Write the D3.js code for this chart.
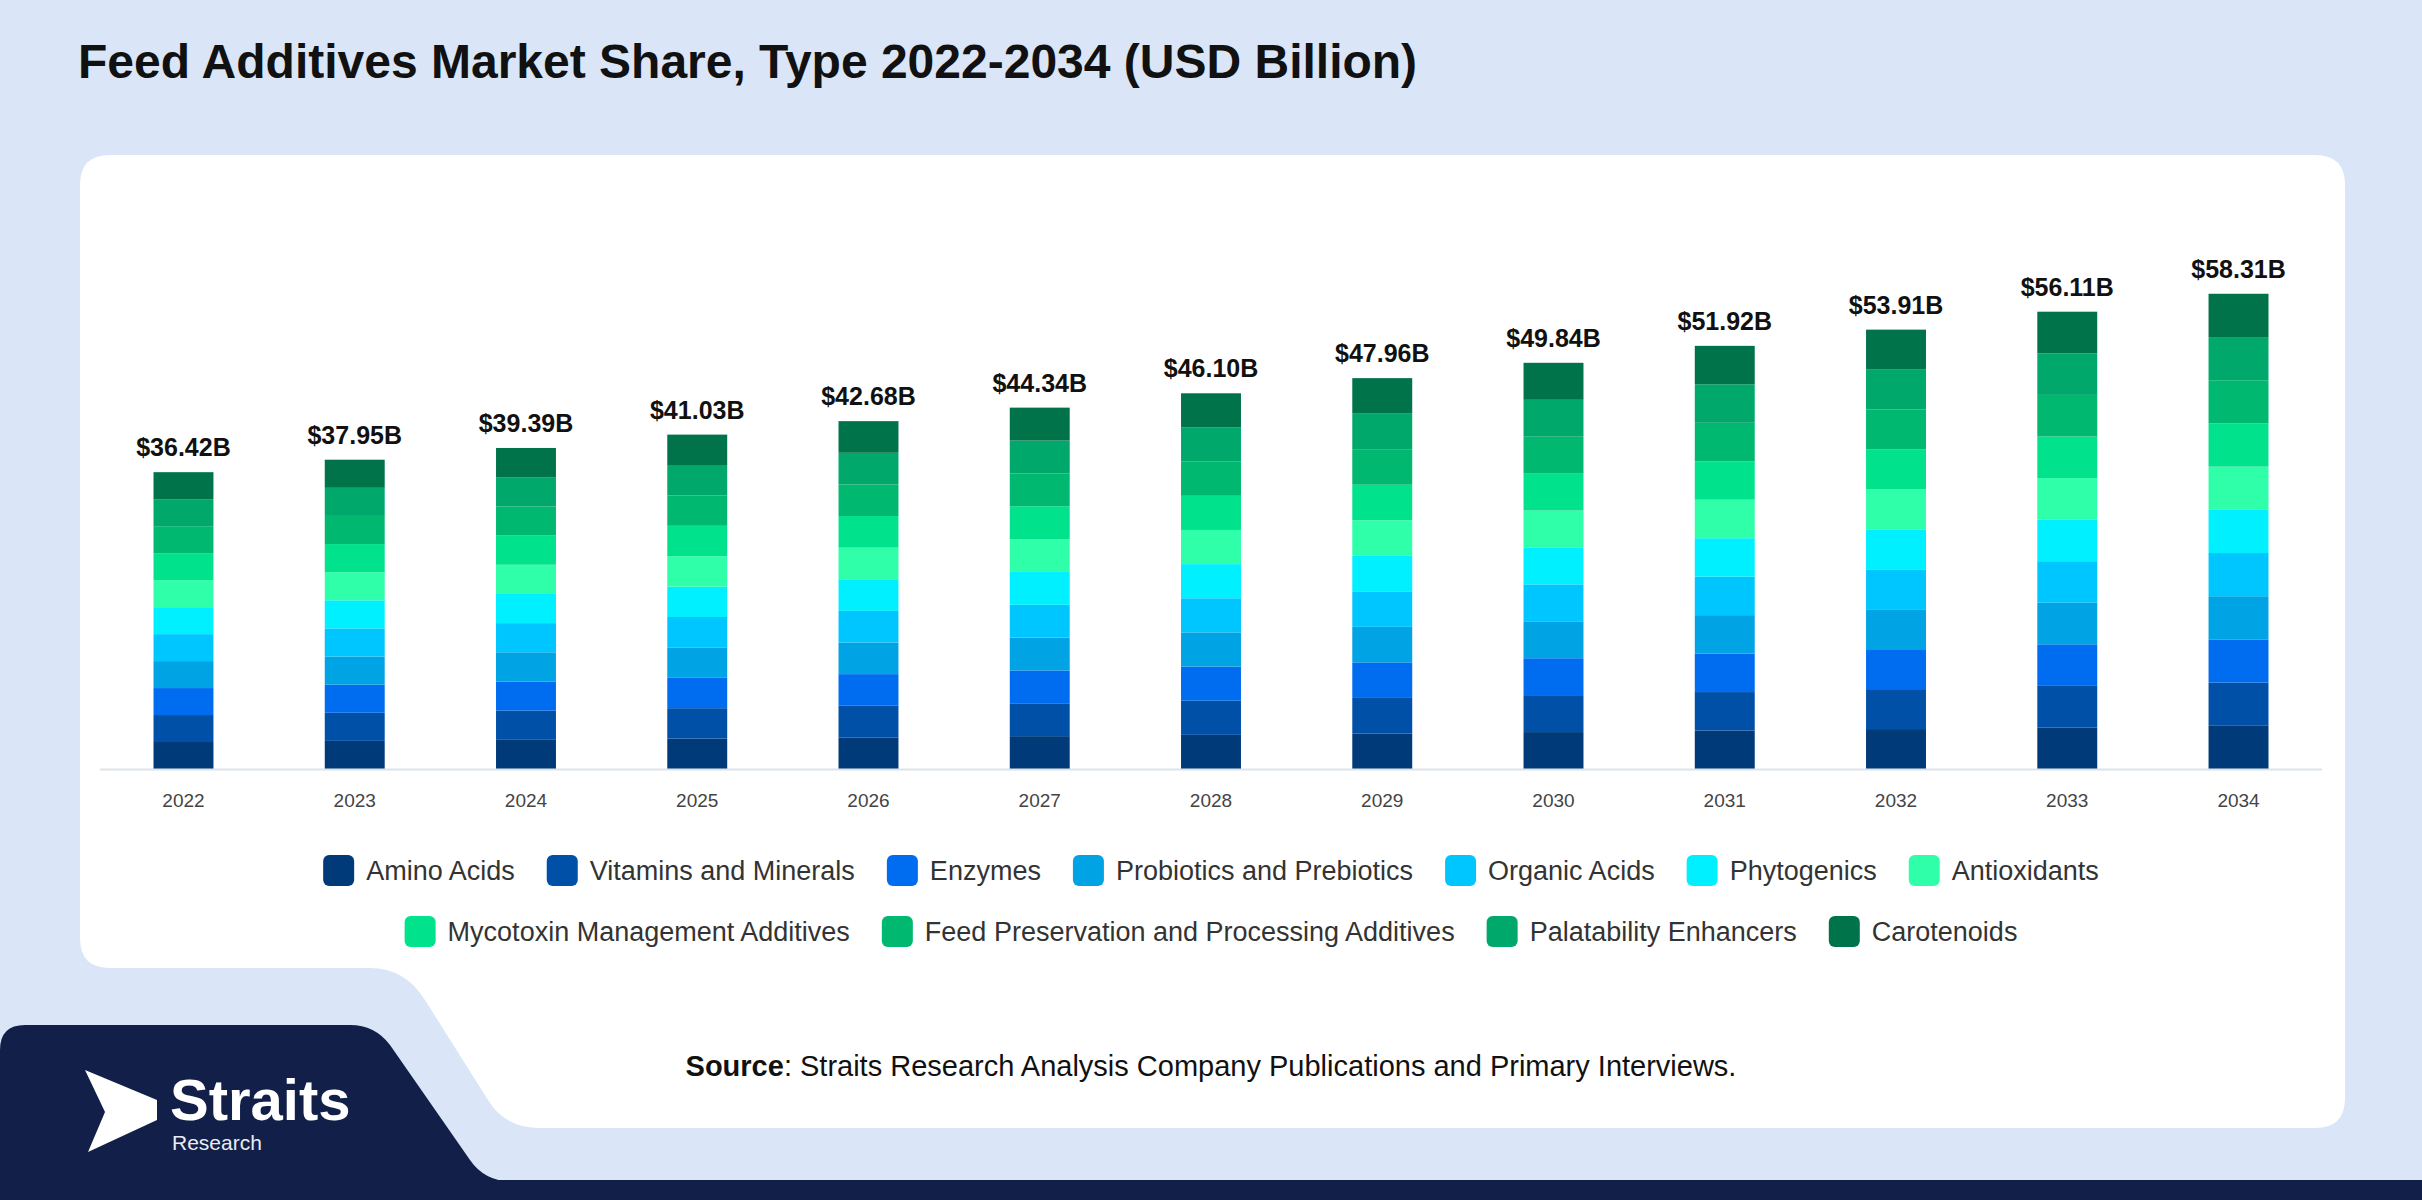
<!DOCTYPE html>
<html><head><meta charset="utf-8">
<script src="https://cdn.jsdelivr.net/npm/d3@7"></script>
<style>body{margin:0;background:#dae6f8;}svg{display:block;font-family:"Liberation Sans",Arial,sans-serif;}</style>
</head><body>
<svg id="c" width="2422" height="1200"></svg>
<script>
const years = ["2022","2023","2024","2025","2026","2027","2028","2029","2030","2031","2032","2033","2034"];
const totals = [36.42,37.95,39.39,41.03,42.68,44.34,46.10,47.96,49.84,51.92,53.91,56.11,58.31];
const totalLabels = ["$36.42B","$37.95B","$39.39B","$41.03B","$42.68B","$44.34B","$46.10B","$47.96B","$49.84B","$51.92B","$53.91B","$56.11B","$58.31B"];
const seriesNames = ["Amino Acids","Vitamins and Minerals","Enzymes","Probiotics and Prebiotics","Organic Acids","Phytogenics","Antioxidants","Mycotoxin Management Additives","Feed Preservation and Processing Additives","Palatability Enhancers","Carotenoids"];
// segments read as roughly equal shares of each bar
const aminoAcids    = [3.31,3.45,3.58,3.73,3.88,4.03,4.19,4.36,4.53,4.72,4.90,5.10,5.30];
const vitamins      = [3.31,3.45,3.58,3.73,3.88,4.03,4.19,4.36,4.53,4.72,4.90,5.10,5.30];
const enzymes       = [3.31,3.45,3.58,3.73,3.88,4.03,4.19,4.36,4.53,4.72,4.90,5.10,5.30];
const probiotics    = [3.31,3.45,3.58,3.73,3.88,4.03,4.19,4.36,4.53,4.72,4.90,5.10,5.30];
const organicAcids  = [3.31,3.45,3.58,3.73,3.88,4.03,4.19,4.36,4.53,4.72,4.90,5.10,5.30];
const phytogenics   = [3.31,3.45,3.58,3.73,3.88,4.03,4.19,4.36,4.53,4.72,4.90,5.10,5.30];
const antioxidants  = [3.31,3.45,3.58,3.73,3.88,4.03,4.19,4.36,4.53,4.72,4.90,5.10,5.30];
const mycotoxin     = [3.31,3.45,3.58,3.73,3.88,4.03,4.19,4.36,4.53,4.72,4.90,5.10,5.30];
const preservation  = [3.31,3.45,3.58,3.73,3.88,4.03,4.19,4.36,4.53,4.72,4.90,5.10,5.30];
const palatability  = [3.31,3.45,3.58,3.73,3.88,4.03,4.19,4.36,4.53,4.72,4.90,5.10,5.30];
const carotenoids   = [3.32,3.45,3.59,3.73,3.88,4.04,4.20,4.36,4.54,4.72,4.91,5.11,5.31];
const seriesValues = [aminoAcids,vitamins,enzymes,probiotics,organicAcids,phytogenics,antioxidants,mycotoxin,preservation,palatability,carotenoids];
const colors = ["#003a78","#0050a8","#006cf0","#00a3e4","#00c6ff","#00f0ff","#2effa8","#00e28c","#00b86f","#00a86b","#00734a"];

const svg = d3.select("#c");
svg.append("rect").attr("width",2422).attr("height",1200).attr("fill","#dae6f8");
svg.append("rect").attr("x",0).attr("y",1180).attr("width",2422).attr("height",20).attr("fill","#121f48");
svg.append("path").attr("fill","#121f48")
  .attr("d","M0,1050 Q0,1025 25,1025 L350,1025 Q375,1025 390,1045 L470,1160 Q485,1182 515,1182 L0,1200 Z");
svg.append("path").attr("fill","#ffffff")
  .attr("d","M110,155 L2315,155 Q2345,155 2345,185 L2345,1098 Q2345,1128 2315,1128 L540,1128 Q505,1128 488,1100 L425,1000 Q405,968 370,968 L110,968 Q80,968 80,938 L80,185 Q80,155 110,155 Z");

svg.append("text").attr("x",78).attr("y",78).attr("font-size",48).attr("font-weight","bold").attr("fill","#111")
  .text("Feed Additives Market Share, Type 2022-2034 (USD Billion)");

const x = d3.scaleBand().domain(years).range([97,2325]).paddingInner(0.65).paddingOuter(0.33);
const y = d3.scaleLinear().domain([0,60]).range([769,280]);

const stackData = years.map((yr,i)=>{const o={year:yr}; seriesNames.forEach((s,k)=>o[s]=seriesValues[k][i]); return o;});
const stack = d3.stack().keys(seriesNames)(stackData);
svg.append("g").selectAll("g.s").data(stack).join("g").attr("fill",(d,i)=>colors[i])
  .selectAll("rect").data(d=>d).join("rect")
  .attr("x",d=>x(d.data.year)).attr("width",x.bandwidth())
  .attr("y",d=>y(d[1])).attr("height",d=>y(d[0])-y(d[1]));

svg.append("line").attr("x1",100).attr("x2",2322).attr("y1",769.5).attr("y2",769.5).attr("stroke","#dde3ea").attr("stroke-width",2);

const ax = svg.append("g").attr("transform","translate(0,770)").call(d3.axisBottom(x).tickSize(0).tickPadding(24));
ax.select(".domain").remove();
ax.selectAll("text").attr("font-size",19).attr("fill","#444").attr("font-family","'Liberation Sans',Arial,sans-serif");

svg.selectAll("text.tot").data(years).join("text").attr("class","tot")
  .attr("x",d=>x(d)+x.bandwidth()/2).attr("y",(d,i)=>y(totals[i])-16)
  .attr("text-anchor","middle").attr("font-size",25).attr("font-weight","bold").attr("fill","#111")
  .text((d,i)=>totalLabels[i]);

const rows=[seriesNames.slice(0,7),seriesNames.slice(7)];
rows.forEach((row,r)=>{
  const lg=svg.append("g");
  let cx=0;
  row.forEach(name=>{
    const k=seriesNames.indexOf(name);
    const it=lg.append("g").attr("transform",`translate(${cx},0)`);
    it.append("rect").attr("x",0).attr("y",-15).attr("width",31).attr("height",31).attr("rx",6).attr("fill",colors[k]);
    const t=it.append("text").attr("x",43).attr("y",10).attr("font-size",27).attr("fill","#333").text(name);
    cx+=43+t.node().getComputedTextLength()+32;
  });
  const w=cx-32;
  lg.attr("transform",`translate(${1211-w/2},${870+r*61})`);
});

const src=svg.append("text").attr("x",1211).attr("y",1076).attr("text-anchor","middle").attr("font-size",29).attr("fill","#111");
src.append("tspan").attr("font-weight","bold").text("Source");
src.append("tspan").text(": Straits Research Analysis Company Publications and Primary Interviews.");

svg.append("path").attr("fill","#fff").attr("d","M85,1070 L157,1100 L157,1120 L88,1152 L105,1112 Z");
svg.append("text").attr("x",170).attr("y",1120).attr("font-size",58).attr("font-weight","bold").attr("fill","#fff").text("Straits");
svg.append("text").attr("x",172).attr("y",1150).attr("font-size",21).attr("fill","#e8ecf5").text("Research");
</script></body></html>
